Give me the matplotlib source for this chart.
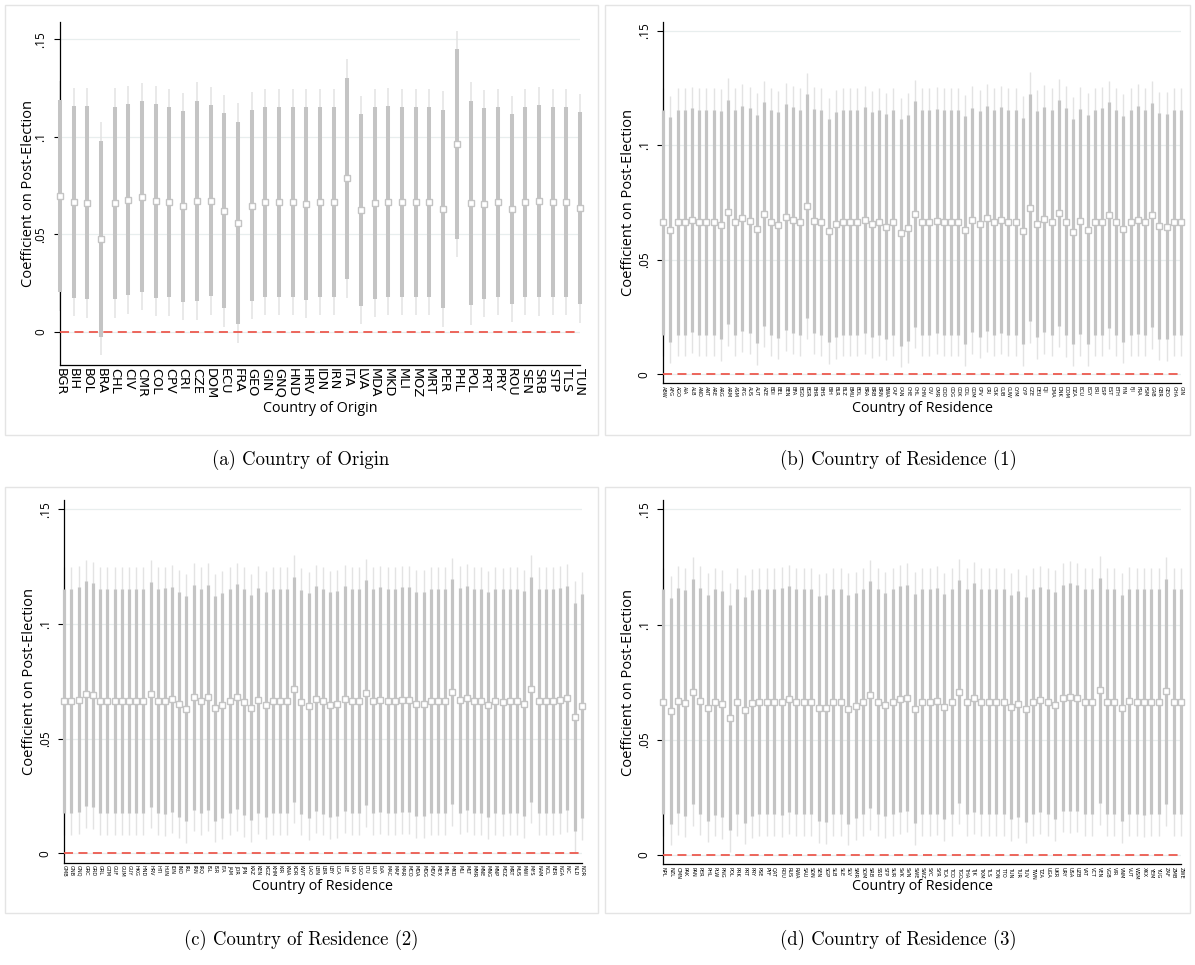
import numpy as np
import matplotlib
matplotlib.use("Agg")
import matplotlib.pyplot as plt
from matplotlib.patches import Rectangle

# ---------------- data ----------------
names_a = ["BGR","BIH","BOL","BRA","CHL","CIV","CMR","COL","CPV","CRI","CZE","DOM","ECU",
           "FRA","GEO","GIN","GNQ","HND","HRV","IDN","IRN","ITA","LVA","MDA","MKD","MLI",
           "MOZ","MRT","PER","PHL","POL","PRT","PRY","ROU","SEN","SRB","STP","TLS","TUN"]
coef_a = [0.0696,0.0666,0.0662,0.0476,0.0660,0.0676,0.0693,0.0671,0.0664,0.0643,0.0671,0.0671,0.0621,
          0.0558,0.0647,0.0666,0.0664,0.0664,0.0657,0.0664,0.0664,0.0787,0.0623,0.0659,0.0667,0.0664,
          0.0664,0.0664,0.0630,0.0963,0.0659,0.0657,0.0664,0.0630,0.0664,0.0669,0.0664,0.0664,0.0633]
se_a = [0.0300,0.0299,0.0301,0.0305,0.0300,0.0298,0.0298,0.0302,0.0297,0.0298,0.0312,0.0298,0.0304,
        0.0314,0.0298,0.0296,0.0296,0.0296,0.0300,0.0296,0.0296,0.0313,0.0299,0.0299,0.0297,0.0296,
        0.0296,0.0296,0.0309,0.0296,0.0318,0.0298,0.0296,0.0296,0.0296,0.0300,0.0296,0.0296,0.0300]

names_b = ["ABW","AFG","AGO","AIA","ALB","AND","ANT","ARE","ARG","ARM","ASM","ATG","AUS","AUT",
           "AZE","BDI","BEL","BEN","BFA","BGD","BGR","BHR","BHS","BIH","BLR","BLZ","BMU","BOL",
           "BRA","BRB","BRN","BWA","CAF","CAN","CHE","CHL","CHN","CIV","CMR","COD","COG","COK",
           "COL","COM","CPV","CRI","CSK","CUB","CUW","CYM","CYP","CZE","DEU","DJI","DMA","DNK",
           "DOM","DZA","ECU","EGY","ERI","ESP","EST","ETH","FIN","FJI","FRA","FSM","GAB","GBR",
           "GEO","GHA","GIN"]
coef_b = [0.0664,0.0632,0.0664,0.0664,0.0674,0.0664,0.0664,0.0664,0.0651,0.0709,0.0664,0.0681,0.0671,0.0635,
          0.0700,0.0664,0.0652,0.0686,0.0673,0.0664,0.0735,0.0670,0.0664,0.0626,0.0654,0.0664,0.0664,0.0664,
          0.0674,0.0654,0.0664,0.0645,0.0664,0.0619,0.0639,0.0700,0.0664,0.0664,0.0670,0.0664,0.0664,0.0664,
          0.0629,0.0674,0.0657,0.0681,0.0664,0.0674,0.0664,0.0664,0.0626,0.0728,0.0655,0.0676,0.0664,0.0705,
          0.0667,0.0623,0.0668,0.0632,0.0664,0.0667,0.0695,0.0664,0.0636,0.0664,0.0674,0.0664,0.0696,0.0648,
          0.0645,0.0664,0.0664]
se_b = [0.0298,0.0298,0.0298,0.0298,0.0297,0.0298,0.0298,0.0298,0.0303,0.0298,0.0298,0.0298,0.0298,0.0303,
        0.0296,0.0298,0.0299,0.0299,0.0299,0.0298,0.0296,0.0297,0.0298,0.0296,0.0299,0.0298,0.0298,0.0298,
        0.0299,0.0298,0.0298,0.0298,0.0298,0.0300,0.0300,0.0299,0.0298,0.0298,0.0297,0.0298,0.0298,0.0298,
        0.0302,0.0298,0.0299,0.0298,0.0298,0.0299,0.0298,0.0298,0.0300,0.0302,0.0300,0.0299,0.0298,0.0299,
        0.0301,0.0299,0.0299,0.0303,0.0298,0.0300,0.0299,0.0298,0.0300,0.0298,0.0302,0.0298,0.0298,0.0299,
        0.0299,0.0298,0.0298]

names_c = ["GMB","GNB","GNQ","GRC","GRD","GRL","GTM","GUF","GUM","GUY","HKG","HND","HRV","HTI",
           "HUN","IDN","IND","IRL","IRN","IRQ","ISL","ISR","ITA","JAM","JOR","JPN","KAZ","KEN",
           "KGZ","KHM","KIR","KNA","KOR","KWT","LAO","LBN","LBR","LBY","LCA","LIE","LKA","LSO",
           "LTU","LUX","LVA","MAC","MAF","MAR","MCO","MDA","MDG","MDV","MEX","MHL","MKD","MLI",
           "MLT","MMR","MNE","MNG","MNP","MOZ","MRT","MUS","MWI","MYS","NAM","NCL","NER","NGA",
           "NIC","NLD","NOR"]
coef_c = [0.0664,0.0664,0.0670,0.0696,0.0690,0.0664,0.0664,0.0664,0.0664,0.0664,0.0664,0.0664,0.0693,0.0664,
          0.0663,0.0671,0.0650,0.0631,0.0680,0.0664,0.0680,0.0632,0.0645,0.0664,0.0683,0.0660,0.0635,0.0668,
          0.0648,0.0664,0.0664,0.0664,0.0715,0.0661,0.0644,0.0673,0.0663,0.0648,0.0652,0.0673,0.0664,0.0664,
          0.0700,0.0664,0.0670,0.0664,0.0664,0.0670,0.0670,0.0651,0.0651,0.0664,0.0664,0.0664,0.0705,0.0668,
          0.0677,0.0664,0.0664,0.0648,0.0664,0.0661,0.0664,0.0664,0.0652,0.0716,0.0664,0.0664,0.0664,0.0668,
          0.0677,0.0594,0.0642]
se_c = [0.0298,0.0298,0.0298,0.0298,0.0297,0.0298,0.0298,0.0298,0.0298,0.0298,0.0298,0.0298,0.0298,0.0298,
        0.0299,0.0298,0.0298,0.0299,0.0298,0.0298,0.0298,0.0298,0.0298,0.0298,0.0298,0.0300,0.0298,0.0298,
        0.0298,0.0298,0.0298,0.0298,0.0298,0.0297,0.0298,0.0298,0.0298,0.0298,0.0298,0.0298,0.0298,0.0298,
        0.0298,0.0298,0.0298,0.0298,0.0298,0.0298,0.0298,0.0298,0.0298,0.0298,0.0298,0.0298,0.0298,0.0298,
        0.0298,0.0298,0.0298,0.0298,0.0298,0.0298,0.0298,0.0298,0.0298,0.0298,0.0298,0.0298,0.0298,0.0298,
        0.0298,0.0302,0.0298]

names_d = ["NPL","NZL","OMN","PAK","PAN","PER","PHL","PLW","PNG","POL","PRK","PRT","PRY","PSE",
           "PYF","QAT","ROU","RUS","RWA","SAU","SDN","SEN","SGP","SLB","SLE","SLV","SMR","SOM",
           "SRB","SSD","STP","SUR","SVK","SVN","SWE","SWZ","SYC","SYR","TCA","TCD","TGO","THA",
           "TJK","TKM","TLS","TON","TTO","TUN","TUR","TUV","TWN","TZA","UGA","UKR","URY","USA",
           "UZB","VAT","VCT","VEN","VGB","VIR","VNM","VUT","WSM","XKX","YEM","YUG","ZAF","ZMB","ZWE"]
coef_d = [0.0665,0.0626,0.0670,0.0661,0.0709,0.0670,0.0639,0.0664,0.0654,0.0596,0.0665,0.0630,0.0658,0.0665,
          0.0665,0.0665,0.0665,0.0675,0.0665,0.0665,0.0665,0.0636,0.0636,0.0665,0.0665,0.0632,0.0648,0.0665,
          0.0696,0.0665,0.0652,0.0665,0.0675,0.0683,0.0635,0.0665,0.0665,0.0670,0.0643,0.0665,0.0709,0.0665,
          0.0683,0.0665,0.0665,0.0665,0.0665,0.0643,0.0656,0.0633,0.0665,0.0674,0.0665,0.0649,0.0683,0.0687,
          0.0683,0.0665,0.0665,0.0714,0.0665,0.0665,0.0638,0.0667,0.0665,0.0662,0.0665,0.0665,0.0710,0.0665,0.0665]
se_d = [0.0297,0.0298,0.0297,0.0298,0.0297,0.0298,0.0298,0.0297,0.0298,0.0297,0.0297,0.0298,0.0298,0.0297,
        0.0297,0.0297,0.0299,0.0298,0.0297,0.0297,0.0297,0.0297,0.0299,0.0297,0.0297,0.0301,0.0297,0.0297,
        0.0299,0.0297,0.0294,0.0297,0.0298,0.0298,0.0302,0.0297,0.0297,0.0298,0.0297,0.0297,0.0294,0.0297,
        0.0301,0.0297,0.0297,0.0297,0.0297,0.0296,0.0298,0.0297,0.0297,0.0297,0.0297,0.0299,0.0298,0.0301,
        0.0298,0.0297,0.0297,0.0297,0.0297,0.0297,0.0298,0.0297,0.0297,0.0298,0.0297,0.0297,0.0297,0.0297,0.0297]

yticks = [0, 0.05, 0.10, 0.15]
ytick_labels = ["0", ".05", ".1", ".15"]
ylabel = "Coefficient on Post-Election"
captions = ["(a) Country of Origin", "(b) Country of Residence (1)",
            "(c) Country of Residence (2)", "(d) Country of Residence (3)"]

# ---------------- style ----------------
W, H = 1195, 965
THICK = "#c4c4c4"
THIN = "#e3e3e3"
RED = "#ec5a4f"
GRID = "#e8eeee"
LABEL_FONT = ["Open Sans", "DejaVu Sans"]

fig = plt.figure(figsize=(W / 100, H / 100), dpi=100)
fig.patch.set_facecolor("white")


def px_axes(l, r, t, b):
    return fig.add_axes([l / W, 1 - b / H, (r - l) / W, (b - t) / H])


def frame(l, r, t, b):
    fig.add_artist(Rectangle((l / W, 1 - b / H), (r - l) / W, (b - t) / H,
                             transform=fig.transFigure, fill=False,
                             edgecolor="#e4e4e4", lw=1.0))


def panel(box, names, coef, se, ylim, xfs, thick_lw, thin_lw, ms, xlabel, xlab_y, ylab_off):
    l, r, t, b = box
    ax = px_axes(l, r, t, b)
    x = np.arange(len(names))
    c = np.asarray(coef)
    s = np.asarray(se)
    ax.vlines(x, c - 1.96 * s, c + 1.96 * s, color=THIN, lw=thin_lw, zorder=2, clip_on=False)
    ax.vlines(x, c - 1.645 * s, c + 1.645 * s, color=THICK, lw=thick_lw, zorder=3, clip_on=False)
    ax.plot(x, c, "s", mfc="white", mec=THICK, ms=ms, mew=1.0, zorder=4, clip_on=False)
    ax.axhline(0, color=RED, lw=1.3, dashes=(5, 3), zorder=5)
    ax.set_xlim(0, len(names) - 1)
    ax.set_ylim(*ylim)
    ax.set_yticks(yticks)
    ax.set_yticklabels(ytick_labels, rotation=90, va="center", fontsize=8.5,
                       family=LABEL_FONT)
    ax.set_xticks(x)
    ax.set_xticklabels(names, rotation=270, fontsize=xfs, family="DejaVu Sans")
    ax.tick_params(axis="y", length=4, width=0.8, pad=5)
    ax.tick_params(axis="x", length=0, pad=2)
    ax.yaxis.grid(True, color=GRID, lw=0.9, zorder=0)
    ax.set_axisbelow(True)
    for sp in ["top", "right"]:
        ax.spines[sp].set_visible(False)
    for sp in ["left", "bottom"]:
        ax.spines[sp].set_linewidth(0.9)
        ax.spines[sp].set_color("black")
    fig.text((l - ylab_off) / W, 1 - (t + b) / 2 / H, ylabel, rotation=90, ha="center",
             va="center", fontsize=10.5, family=LABEL_FONT)
    fig.text((l + r) / 2 / W, 1 - xlab_y / H, xlabel, ha="center", va="center",
             fontsize=10.3, family=LABEL_FONT)
    return ax


# frames
frame(5, 598, 5, 435)
frame(605, 1190, 5, 435)
frame(5, 598, 487, 913)
frame(605, 1190, 487, 913)

panel((60, 580, 22, 365), names_a, coef_a, se_a, (-0.0171, 0.1589), 9.3, 2.9, 1.1, 4.4,
      "Country of Origin", 409, 31)
panel((663.3, 1181, 21.7, 383.3), names_b, coef_b, se_b, (-0.0039, 0.1539), 3.6, 2.3, 1.0, 3.7,
      "Country of Residence", 409, 35)
panel((64.3, 581.7, 500.3, 862.7), names_c, coef_c, se_c, (-0.0041, 0.1539), 3.6, 2.3, 1.0, 3.7,
      "Country of Residence", 887, 35)
panel((663.3, 1181, 500.3, 864.3), names_d, coef_d, se_d, (-0.0040, 0.1539), 3.6, 2.3, 1.0, 3.7,
      "Country of Residence", 887, 35)

# captions
cap_pos = [(301, 460), (898, 460), (301, 940), (898, 940)]
for (cx, cy), txt in zip(cap_pos, captions):
    fig.text(cx / W, 1 - cy / H, txt, ha="center", va="center", fontsize=13.5, family="cmr10")

fig.savefig("out.png", dpi=100, facecolor="white")
